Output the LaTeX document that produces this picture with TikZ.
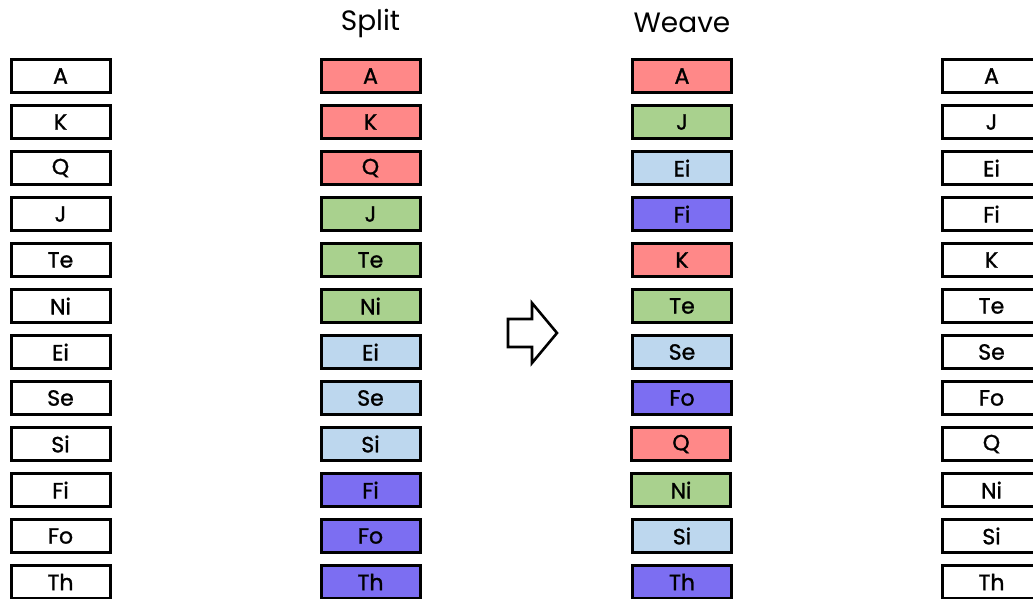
\documentclass[tikz,border=0pt]{standalone}
\usepackage{fontspec}
\setmainfont{Poppins}
\newfontfamily\cardfont{Poppins}[FakeBold=1.2]
\definecolor{cred}{RGB}{255,136,136}
\definecolor{cgreen}{RGB}{169,209,142}
\definecolor{cblue}{RGB}{189,215,238}
\definecolor{cpurple}{RGB}{124,110,242}
\begin{document}
\begin{tikzpicture}[x=1pt, y=-1pt]
\tikzstyle{every node}=[inner sep=0pt];
\tikzstyle{card}=[draw, line width=3pt, minimum width=99pt, minimum height=33pt, font=\cardfont\fontsize{22}{26}\selectfont];
\tikzstyle{title}=[font=\fontsize{28}{32}\selectfont];
\useasboundingbox (0,0) rectangle (1033,598);
\clip (0,0) rectangle (1033,598);
% starting deck
\node[card] (a0) at (60.5, 76) {A};
\node[card] (a1) at (60.5, 122) {K};
\node[card] (a2) at (60.5, 168) {Q};
\node[card] (a3) at (60.5, 214) {J};
\node[card] (a4) at (60.5, 260) {Te};
\node[card] (a5) at (60.5, 306) {Ni};
\node[card] (a6) at (60.5, 352) {Ei};
\node[card] (a7) at (60.5, 398) {Se};
\node[card] (a8) at (60.5, 444) {Si};
\node[card] (a9) at (60.5, 490) {Fi};
\node[card] (a10) at (60.5, 536) {Fo};
\node[card] (a11) at (60.5, 582) {Th};
% split into four piles
\node[title] (split) at (370.5, 23) {Split};
\node[card, fill=cred] (s0) at (370.5, 76) {A};
\node[card, fill=cred] (s1) at (370.5, 122) {K};
\node[card, fill=cred] (s2) at (370.5, 168) {Q};
\node[card, fill=cgreen] (s3) at (370.5, 214) {J};
\node[card, fill=cgreen] (s4) at (370.5, 260) {Te};
\node[card, fill=cgreen] (s5) at (370.5, 306) {Ni};
\node[card, fill=cblue] (s6) at (370.5, 352) {Ei};
\node[card, fill=cblue] (s7) at (370.5, 398) {Se};
\node[card, fill=cblue] (s8) at (370.5, 444) {Si};
\node[card, fill=cpurple] (s9) at (370.5, 490) {Fi};
\node[card, fill=cpurple] (s10) at (370.5, 536) {Fo};
\node[card, fill=cpurple] (s11) at (370.5, 582) {Th};
% outlined arrow
\draw[line width=2.6pt, line join=miter] (508,319) -- (532,319) -- (532,303) -- (557,333)
  -- (532,363) -- (532,347) -- (508,347) -- cycle;
% weave
\node[title] (weave) at (682, 23) {Weave};
\node[card, fill=cred] (w0) at (682, 76) {A};
\node[card, fill=cgreen] (w1) at (682, 122) {J};
\node[card, fill=cblue] (w2) at (682, 168) {Ei};
\node[card, fill=cpurple] (w3) at (682, 214) {Fi};
\node[card, fill=cred] (w4) at (682, 260) {K};
\node[card, fill=cgreen] (w5) at (682, 306) {Te};
\node[card, fill=cblue] (w6) at (682, 352) {Se};
\node[card, fill=cpurple] (w7) at (682, 398) {Fo};
\node[card, fill=cred] (w8) at (681, 444) {Q};
\node[card, fill=cgreen] (w9) at (681, 490) {Ni};
\node[card, fill=cblue] (w10) at (682, 536) {Si};
\node[card, fill=cpurple] (w11) at (682, 582) {Th};
% resulting deck
\node[card] (r0) at (991.5, 76) {A};
\node[card] (r1) at (991.5, 122) {J};
\node[card] (r2) at (991.5, 168) {Ei};
\node[card] (r3) at (991.5, 214) {Fi};
\node[card] (r4) at (991.5, 260) {K};
\node[card] (r5) at (991.5, 306) {Te};
\node[card] (r6) at (991.5, 352) {Se};
\node[card] (r7) at (991.5, 398) {Fo};
\node[card] (r8) at (991.5, 444) {Q};
\node[card] (r9) at (991.5, 490) {Ni};
\node[card] (r10) at (991.5, 536) {Si};
\node[card] (r11) at (991.5, 582) {Th};
\end{tikzpicture}
\end{document}
